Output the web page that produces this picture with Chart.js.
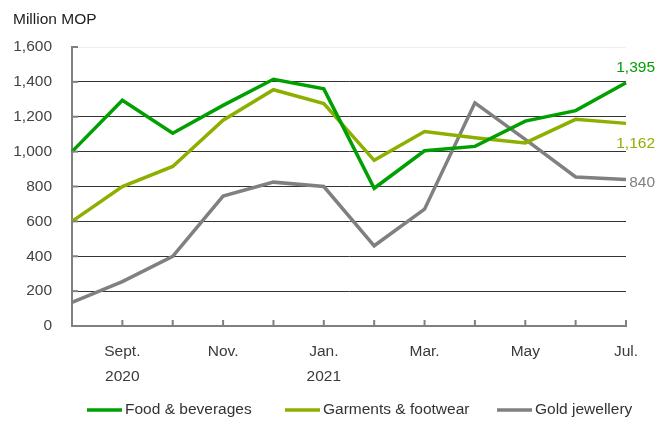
<!DOCTYPE html>
<html lang="en">
  <head>
    <meta charset="UTF-8" />
    <title>Retail sales by commodity</title>
    <script src="https://cdn.jsdelivr.net/npm/chart.js"></script>
    <style>
      html, body { margin: 0; padding: 0; background: #ffffff; }
      #wrap { width: 671px; height: 423px; }
    </style>
  </head>
  <body>
    <div id="wrap"><canvas id="retailChart" width="671" height="423"></canvas></div>

    <script>
      // Aug 2020 .. Jul 2021
      const months = ["Aug.", "Sept.", "Oct.", "Nov.", "Dec.", "Jan.", "Feb.", "Mar.", "Apr.", "May", "Jun.", "Jul."];
      const years = ["", "2020", "", "", "", "2021", "", "", "", "", "", ""];
      const seriesNames = ["Food & beverages", "Garments & footwear", "Gold jewellery"];
      const foodValues = [1000, 1295, 1105, 1265, 1415, 1360, 790, 1005, 1030, 1175, 1235, 1395];
      const garmentValues = [600, 800, 915, 1180, 1355, 1275, 950, 1115, 1080, 1050, 1185, 1162];
      const goldValues = [135, 255, 400, 745, 825, 800, 460, 670, 1280, 1070, 855, 840];
      const yTicks = [0, 200, 400, 600, 800, 1000, 1200, 1400, 1600];

      const colors = ["#00a000", "#8db000", "#808080"];
      const FONT = "'Liberation Sans Narrow', 'Arial Narrow', 'Liberation Sans', sans-serif";
      const FS = 15.5;

      // where the end-of-line value labels sit, relative to the last point
      const endLabelDy = [-15, 20, 3];
      const legendX = [87, 285, 497];

      const fmt = (v) => v.toLocaleString("en-US");

      const extras = {
        id: "extras",
        afterDraw(chart) {
          const c = chart.ctx;
          const area = chart.chartArea;
          const xs = chart.scales.x;
          const ys = chart.scales.y;
          c.save();

          // inward tick marks
          c.strokeStyle = "#808080";
          c.lineWidth = 2;
          months.forEach((m, i) => {
            if (i === 0) return;
            const px = xs.getPixelForValue(i);
            c.beginPath();
            c.moveTo(px, area.bottom);
            c.lineTo(px, area.bottom - 6);
            c.stroke();
          });
          yTicks.forEach((t) => {
            if (t === 0) return;
            const py = ys.getPixelForValue(t);
            c.beginPath();
            c.moveTo(area.left, py);
            c.lineTo(area.left + 6, py);
            c.stroke();
          });

          // unit label
          c.font = FS + "px " + FONT;
          c.fillStyle = "#222";
          c.textAlign = "left";
          c.textBaseline = "middle";
          c.fillText("Million MOP", 13, 20);

          // end values
          c.textAlign = "right";
          chart.data.datasets.forEach((ds, i) => {
            const last = ds.data.length - 1;
            const py = ys.getPixelForValue(ds.data[last]);
            c.fillStyle = colors[i];
            c.fillText(fmt(ds.data[last]), 655, py + endLabelDy[i]);
          });

          // legend
          c.textAlign = "left";
          chart.data.datasets.forEach((ds, i) => {
            const x0 = legendX[i];
            c.strokeStyle = colors[i];
            c.lineWidth = 3.5;
            c.beginPath();
            c.moveTo(x0, 410);
            c.lineTo(x0 + 35, 410);
            c.stroke();
            c.fillStyle = "#333";
            c.fillText(ds.label, x0 + 38, 410);
          });
          c.restore();
        },
      };

      const mk = (label, data, color) => ({
        label: label,
        data: data,
        borderColor: color,
        backgroundColor: color,
        borderWidth: 3.5,
        pointRadius: 0,
        tension: 0,
        fill: false,
        borderJoinStyle: "miter",
      });

      new Chart(document.getElementById("retailChart"), {
        type: "line",
        data: {
          labels: months,
          datasets: [
            mk(seriesNames[0], foodValues, colors[0]),
            mk(seriesNames[1], garmentValues, colors[1]),
            mk(seriesNames[2], goldValues, colors[2]),
          ],
        },
        options: {
          responsive: false,
          animation: false,
          layout: { padding: { top: 47, right: 45, bottom: 0, left: 0 } },
          plugins: { legend: { display: false }, tooltip: { enabled: false } },
          scales: {
            x: {
              offset: false,
              afterFit: (s) => { s.height = 97; },
              grid: { display: false, drawTicks: false },
              border: { display: true, color: "#808080", width: 2 },
              ticks: {
                autoSkip: false,
                maxRotation: 0,
                padding: 13,
                color: "#3a3a3a",
                font: { family: FONT, size: FS, lineHeight: 25 / FS },
                callback: (v, i) => {
                  if (i % 2 === 0) return null;
                  return years[i] ? [months[i], years[i]] : months[i];
                },
              },
            },
            y: {
              min: 0,
              max: 1600,
              afterFit: (s) => { s.width = 72; },
              afterBuildTicks: (s) => { s.ticks = yTicks.map((v) => ({ value: v })); },
              grid: {
                drawTicks: false,
                lineWidth: 1,
                color: (ctx) => (ctx.tick.value === 1600 ? "#eeeeee" : ctx.tick.value === 0 ? "rgba(0,0,0,0)" : "#333333"),
              },
              border: { display: true, color: "#808080", width: 2 },
              ticks: {
                padding: 20,
                color: "#444",
                font: { family: FONT, size: FS },
                callback: (v) => fmt(v),
              },
            },
          },
        },
        plugins: [extras],
      });
    </script>
  </body>
</html>
